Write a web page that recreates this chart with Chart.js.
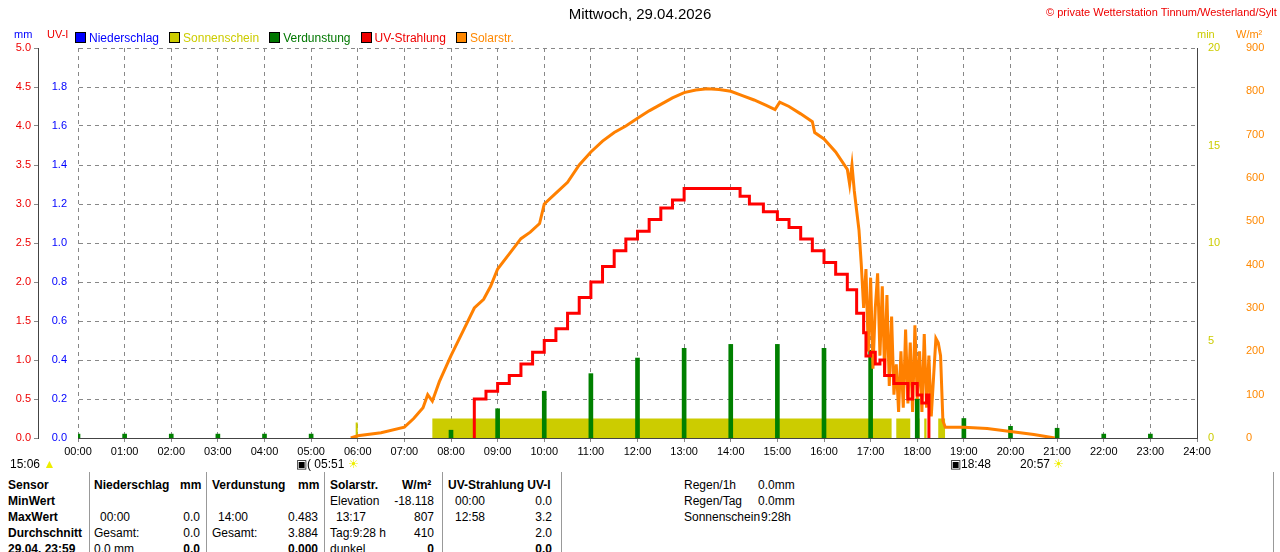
<!DOCTYPE html>
<html><head><meta charset="utf-8">
<script src="https://cdn.jsdelivr.net/npm/chart.js@4"></script>
<style>
body{margin:0;background:#fff;width:1280px;height:552px;overflow:hidden;position:relative;font-family:"Liberation Sans Narrow","Liberation Sans",Arial,sans-serif}
#wrap{position:absolute;left:0;top:0;width:1280px;height:460px}
.t{position:absolute;font-size:12px;white-space:nowrap;line-height:14px}
.b{font-weight:bold}
.r{text-align:right}
.sep{position:absolute;top:472px;height:80px;border-left:1px solid #999}
.sq{display:inline-block;width:9px;height:9px;border:1px solid #000;vertical-align:-1px;margin-right:3px}
</style></head><body>
<div id="wrap"><canvas id="c" width="1280" height="460"></canvas></div>
<div class="t" style="left:0;width:1280px;text-align:center;top:7px;font-size:15px;font-family:'Liberation Sans',Arial">Mittwoch, 29.04.2026</div>
<div class="t" style="left:1046px;top:5px;color:#e00;font-size:11px">© private Wetterstation Tinnum/Westerland/Sylt</div>
<div class="t" style="left:14px;top:27px;color:#00f;font-size:11px">mm</div>
<div class="t" style="left:47px;top:27px;color:#e00;font-size:11px">UV-I</div>
<div class="t" style="left:1197px;top:27px;color:#cc0;font-size:11px">min</div>
<div class="t" style="left:1236px;top:27px;color:#f80;font-size:11px">W/m²</div>
<div class="t" style="left:75px;top:31px;font-size:12px">
<span style="color:#00f"><i class="sq" style="background:#00f"></i>Niederschlag</span>&nbsp;&nbsp;
<span style="color:#cc0"><i class="sq" style="background:#cc0"></i>Sonnenschein</span>&nbsp;&nbsp;
<span style="color:#070"><i class="sq" style="background:#070"></i>Verdunstung</span>&nbsp;&nbsp;
<span style="color:#e00"><i class="sq" style="background:#e00"></i>UV-Strahlung</span>&nbsp;&nbsp;
<span style="color:#f80"><i class="sq" style="background:#f80"></i>Solarstr.</span></div>
<div class="t" style="left:10px;top:457px">15:06 <span style="color:#ee0">▲</span></div>
<div class="t" style="left:296px;top:457px">▣( 05:51 <span style="color:#ee0">☀</span></div>
<div class="t" style="left:950px;top:457px">▣18:48</div>
<div class="t" style="left:1020px;top:457px">20:57 <span style="color:#ee0">☀</span></div>
<div class="sep" style="left:89px"></div><div class="sep" style="left:206px"></div><div class="sep" style="left:324px"></div><div class="sep" style="left:442px"></div><div class="sep" style="left:561px"></div><div class="sep" style="left:1273px"></div>
<div class="t b" style="left:8px;top:478px">Sensor</div>
<div class="t b" style="left:8px;top:494px">MinWert</div>
<div class="t b" style="left:8px;top:510px">MaxWert</div>
<div class="t b" style="left:8px;top:526px">Durchschnitt</div>
<div class="t b" style="left:8px;top:542px">29.04. 23:59</div>
<div class="t b" style="left:94px;top:478px">Niederschlag</div><div class="t b" style="left:180px;top:478px">mm</div>
<div class="t" style="left:100px;top:510px">00:00</div><div class="t r" style="left:160px;width:40px;top:510px">0.0</div>
<div class="t" style="left:94px;top:526px">Gesamt:</div><div class="t r" style="left:160px;width:40px;top:526px">0.0</div>
<div class="t" style="left:94px;top:542px">0.0 mm</div><div class="t r b" style="left:160px;width:40px;top:542px">0.0</div>
<div class="t b" style="left:212px;top:478px">Verdunstung</div><div class="t b" style="left:298px;top:478px">mm</div>
<div class="t" style="left:218px;top:510px">14:00</div><div class="t r" style="left:270px;width:48px;top:510px">0.483</div>
<div class="t" style="left:212px;top:526px">Gesamt:</div><div class="t r" style="left:270px;width:48px;top:526px">3.884</div>
<div class="t r b" style="left:270px;width:48px;top:542px">0.000</div>
<div class="t b" style="left:330px;top:478px">Solarstr.</div><div class="t b" style="left:402px;top:478px">W/m²</div>
<div class="t" style="left:330px;top:494px">Elevation</div><div class="t r" style="left:380px;width:54px;top:494px">-18.118</div>
<div class="t" style="left:336px;top:510px">13:17</div><div class="t r" style="left:380px;width:54px;top:510px">807</div>
<div class="t" style="left:330px;top:526px">Tag:9:28 h</div><div class="t r" style="left:380px;width:54px;top:526px">410</div>
<div class="t" style="left:330px;top:542px">dunkel</div><div class="t r b" style="left:380px;width:54px;top:542px">0</div>
<div class="t b" style="left:448px;top:478px">UV-Strahlung UV-I</div>
<div class="t" style="left:455px;top:494px">00:00</div><div class="t r" style="left:510px;width:42px;top:494px">0.0</div>
<div class="t" style="left:455px;top:510px">12:58</div><div class="t r" style="left:510px;width:42px;top:510px">3.2</div>
<div class="t r" style="left:510px;width:42px;top:526px">2.0</div>
<div class="t r b" style="left:510px;width:42px;top:542px">0.0</div>
<div class="t" style="left:684px;top:478px">Regen/1h</div><div class="t" style="left:758px;top:478px">0.0mm</div>
<div class="t" style="left:684px;top:494px">Regen/Tag</div><div class="t" style="left:758px;top:494px">0.0mm</div>
<div class="t" style="left:684px;top:510px">Sonnenschein</div><div class="t" style="left:761px;top:510px">9:28h</div>
<script>
// ----- Werte -----
const solarT=[5.85,6.0,6.5,7.0,7.2,7.4,7.5,7.6,7.75,8.0,8.25,8.5,8.7,8.85,9.0,9.25,9.5,9.7,9.9,10.0,10.25,10.5,10.75,11.0,11.25,11.5,11.75,12.0,12.25,12.5,12.75,13.0,13.25,13.5,13.75,14.0,14.25,14.5,14.75,14.95,15.05,15.25,15.5,15.75,15.8,16.0,16.25,16.5,16.55,16.6,16.65,16.75,16.8,16.85,16.9,16.95,17.0,17.05,17.1,17.15,17.2,17.25,17.3,17.35,17.4,17.45,17.5,17.55,17.6,17.65,17.7,17.75,17.8,17.85,17.9,17.95,18.0,18.05,18.1,18.15,18.2,18.25,18.3,18.35,18.4,18.45,18.5,18.55,18.6,19.0,19.5,20.0,20.5,20.95];
const solarW=[0,5,12,25,45,70,100,85,130,190,245,300,320,350,390,425,460,475,495,540,565,590,630,660,685,705,720,738,755,770,785,797,803,806,804,800,790,780,768,758,775,765,748,730,705,690,660,620,585,630,570,480,400,300,390,200,370,160,300,380,190,350,150,330,120,280,100,170,60,200,70,250,80,220,60,260,90,200,60,240,70,190,50,140,230,220,190,40,25,25,22,15,8,0];
const uvT=[8.5,8.5,8.75,9.0,9.25,9.5,9.75,10.0,10.25,10.5,10.75,11.0,11.25,11.5,11.75,12.0,12.25,12.5,12.75,13.0,14.0,14.2,14.4,14.7,15.0,15.25,15.5,15.75,16.0,16.25,16.5,16.7,16.85,16.9,17.0,17.1,17.2,17.3,17.5,17.7,17.8,17.9,18.0,18.1,18.2,18.25,18.25];
const uvV=[0,0.5,0.6,0.7,0.8,0.95,1.1,1.25,1.4,1.6,1.8,2.0,2.2,2.4,2.55,2.65,2.8,2.95,3.05,3.2,3.2,3.1,3.0,2.9,2.8,2.7,2.55,2.4,2.25,2.1,1.9,1.6,1.35,1.05,1.1,0.95,1.0,0.8,0.7,0.7,0.5,0.7,0.55,0.45,0.55,0.4,0];
const sunStart=[5.95,7.6,17.55,18.0,18.15,18.45];
const sunEnd=[6.0,17.45,17.85,18.05,18.2,18.6];
const sunMin=[0.8,1.0,1.0,1.0,1.0,1.0];
const evapT=[0,1,2,3,4,5,8,9,10,11,12,13,14,15,16,17,18,19,20,21,22,23];
const evapV=[0.02,0.02,0.02,0.02,0.02,0.02,0.04,0.15,0.24,0.33,0.41,0.46,0.48,0.48,0.46,0.45,0.2,0.1,0.06,0.05,0.02,0.02];

const sun=[];
sunStart.forEach((s,i)=>{sun.push({x:s,y:0},{x:s,y:sunMin[i]},{x:sunEnd[i],y:sunMin[i]},{x:sunEnd[i],y:0})});
const grid={color:'#888',drawTicks:true,tickLength:4};
const fit=w=>s=>{s.width=w};
new Chart(document.getElementById('c'),{
  data:{datasets:[
    {type:'line',label:'Sonnenschein',data:sun,yAxisID:'min',backgroundColor:'#cccc00',borderWidth:0,pointRadius:0,fill:'origin',order:5},
    {type:'bar',label:'Verdunstung',data:evapT.map((t,i)=>({x:t,y:evapV[i]})),yAxisID:'mm',backgroundColor:'#008000',barThickness:4,order:4},
    {type:'line',label:'Solarstr.',data:solarT.map((t,i)=>({x:t,y:solarW[i]})),yAxisID:'w',borderColor:'#ff8000',borderWidth:3,pointRadius:0,order:2},
    {type:'line',label:'UV',data:uvT.map((t,i)=>({x:t,y:uvV[i]})),yAxisID:'uv',borderColor:'#ff0000',borderWidth:3,pointRadius:0,stepped:true,order:1}
  ]},
  options:{responsive:false,animation:false,layout:{padding:{top:48,left:0,right:0,bottom:0}},
    plugins:{legend:{display:false},tooltip:{enabled:false}},
    scales:{
      x:{type:'linear',offset:false,min:0,max:24,grid:{...grid,offset:false},border:{color:'#444',dash:[4,4]},
         ticks:{stepSize:1,color:'#000',font:{size:11},maxRotation:0,callback:v=>String(v).padStart(2,'0')+':00'},afterFit:s=>{s.height=22}},
      mm:{position:'left',min:0,max:2,grid:{display:false},border:{display:false},
         ticks:{stepSize:0.2,color:'#00f',font:{size:11},callback:v=>v>=1.9?'':v.toFixed(1)},afterFit:fit(40)},
      uv:{position:'left',min:0,max:5,grid:grid,border:{color:'#444',dash:[4,4]},
         ticks:{stepSize:0.5,color:'#e00',font:{size:11},callback:v=>v.toFixed(1)},afterFit:fit(38)},
      min:{position:'right',min:0,max:20,grid:{display:false},border:{color:'#444'},
         ticks:{stepSize:5,color:'#cc0',font:{size:11}},afterFit:fit(38)},
      w:{position:'right',min:0,max:900,grid:{display:false},border:{display:false},
         ticks:{stepSize:100,color:'#f80',font:{size:11}},afterFit:fit(45)}
    }}
});
</script>
</body></html>
